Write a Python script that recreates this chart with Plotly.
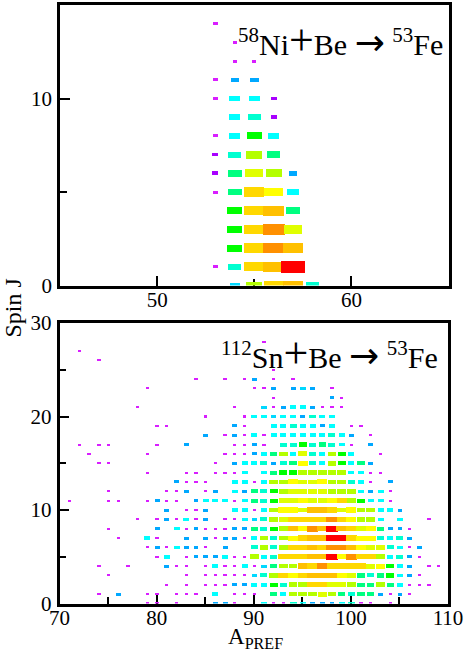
import plotly.graph_objects as go

# levels: 1 magenta ... 15 red, one per drawn box colour
level_colors = {
    1: "#d81eff", 2: "#a800ff", 3: "#00a8ff", 4: "#00d8ff", 5: "#00ffff",
    6: "#00ffd0", 7: "#00ff80", 8: "#00ff00", 9: "#b4ff00", 10: "#e0ff00",
    11: "#ffff00", 12: "#ffd800", 13: "#ffc000", 14: "#ff9000", 15: "#ff0000",
}
# box sizes in axis units (A, J) for each level
ni_box_w = {1: 0.23, 2: 0.30, 3: 0.44, 4: 0.52, 5: 0.58, 6: 0.66, 7: 0.70, 8: 0.76,
            9: 0.84, 10: 0.92, 11: 0.98, 12: 1.02, 13: 1.05, 14: 1.12, 15: 1.23}
ni_box_h = {1: 0.16, 2: 0.20, 3: 0.24, 4: 0.27, 5: 0.30, 6: 0.33, 7: 0.36, 8: 0.38,
            9: 0.42, 10: 0.44, 11: 0.46, 12: 0.50, 13: 0.52, 14: 0.56, 15: 0.64}
sn_box_w = {1: 0.34, 2: 0.38, 3: 0.50, 4: 0.56, 5: 0.62, 6: 0.72, 7: 0.76, 8: 0.82,
            9: 0.90, 10: 0.96, 11: 1.02, 12: 1.06, 13: 1.08, 14: 1.14, 15: 1.24}
sn_box_h = {1: 0.22, 2: 0.24, 3: 0.32, 4: 0.34, 5: 0.38, 6: 0.42, 7: 0.44, 8: 0.46,
            9: 0.50, 10: 0.52, 11: 0.54, 12: 0.56, 13: 0.58, 14: 0.60, 15: 0.64}

# 58Ni+Be, rows by J = 0..14
ni_a = [
    [54, 55, 56, 57, 58],
    [53, 54, 55, 56, 57],
    [54, 55, 56, 57],
    [54, 55, 56, 57],
    [54, 55, 56, 57],
    [53, 54, 55, 56, 57],
    [53, 54, 55, 56, 57],
    [53, 54, 55, 56],
    [53, 54, 55, 56],
    [54, 55, 56],
    [53, 54, 55, 56],
    [53, 54, 55],
    [54, 55],
    [54],
    [53],
]
ni_level = [
    [4, 9, 12, 13, 6],
    [1, 6, 12, 13, 15],
    [8, 12, 14, 13],
    [8, 12, 14, 10],
    [8, 12, 13, 7],
    [1, 7, 12, 11, 5],
    [2, 7, 10, 9, 3],
    [2, 6, 9, 7],
    [1, 5, 8, 5],
    [5, 6, 2],
    [1, 5, 5, 2],
    [1, 3, 3],
    [1, 1],
    [1],
    [1],
]

# 112Sn+Be, rows by J = 0..28
sn_a = [
    [79, 80, 82, 86, 87, 88, 91, 92, 93, 94, 95, 96, 97, 98, 99, 100, 101, 102, 104],
    [74, 76, 79, 80, 82, 83, 84, 86, 88, 89, 90, 92, 93, 94, 95, 96, 97, 98, 99, 100, 101, 102, 103, 104, 105, 106],
    [81, 83, 85, 86, 87, 88, 89, 90, 91, 92, 93, 94, 95, 96, 97, 98, 99, 100, 101, 102, 103, 104, 105, 106, 107, 108],
    [75, 83, 85, 86, 87, 88, 89, 90, 91, 92, 93, 94, 95, 96, 97, 98, 99, 100, 101, 102, 103, 104, 105, 106, 107],
    [74, 77, 81, 82, 83, 85, 86, 87, 88, 89, 90, 91, 92, 93, 94, 95, 96, 97, 98, 99, 100, 101, 102, 103, 104, 105, 106, 108, 109],
    [80, 81, 83, 84, 85, 86, 87, 88, 89, 90, 91, 92, 93, 94, 95, 96, 97, 98, 99, 100, 101, 102, 103, 104, 105, 106, 107],
    [79, 80, 81, 82, 83, 84, 85, 87, 90, 91, 92, 93, 94, 95, 96, 97, 98, 99, 100, 101, 102, 103, 104, 105, 106, 107],
    [76, 79, 80, 83, 85, 86, 87, 88, 89, 90, 91, 92, 93, 94, 95, 96, 97, 98, 99, 100, 101, 102, 103, 104, 105, 106],
    [75, 80, 82, 83, 84, 85, 86, 87, 88, 89, 90, 91, 92, 93, 94, 95, 96, 97, 98, 99, 100, 101, 102, 103, 104, 105, 106],
    [78, 80, 81, 82, 83, 84, 85, 87, 88, 89, 90, 91, 92, 93, 94, 95, 96, 97, 98, 99, 100, 101, 102, 103, 105, 108],
    [81, 83, 84, 85, 88, 89, 90, 91, 92, 93, 94, 95, 96, 97, 98, 99, 100, 101, 102, 103, 104, 105],
    [71, 75, 76, 79, 80, 81, 82, 84, 85, 86, 87, 88, 89, 90, 91, 92, 93, 94, 95, 96, 97, 98, 99, 100, 101, 102, 103, 104],
    [75, 81, 82, 83, 85, 86, 88, 89, 90, 91, 92, 93, 94, 95, 96, 97, 98, 99, 100, 101, 102, 103, 104],
    [82, 83, 84, 85, 88, 89, 90, 91, 92, 93, 94, 95, 96, 97, 98, 99, 100, 101, 102, 104],
    [79, 83, 84, 86, 87, 88, 89, 91, 92, 93, 94, 95, 96, 97, 98, 99, 100, 101, 102, 103],
    [74, 75, 86, 88, 89, 90, 91, 92, 93, 94, 95, 96, 97, 98, 99, 100, 101, 102],
    [73, 79, 87, 88, 89, 90, 91, 92, 93, 94, 95, 96, 97, 98, 99, 100, 103],
    [72, 74, 75, 80, 83, 88, 89, 90, 91, 93, 94, 95, 96, 97, 98, 99, 100, 102],
    [85, 87, 88, 89, 90, 91, 92, 93, 94, 95, 96, 97, 98, 99, 100, 102],
    [80, 81, 88, 89, 92, 93, 94, 95, 96, 97, 98, 100, 101],
    [85, 89, 90, 91, 92, 93, 94, 95, 96, 97, 98],
    [78, 88, 91, 92, 93, 94, 95, 96, 97, 98, 99],
    [92, 98, 99],
    [79, 90, 91, 92, 94, 95, 96, 98],
    [84, 87, 89, 90, 92, 94],
    [92],
    [74, 91],
    [72],
    [91],
]
sn_level = [
    [1, 1, 1, 3, 3, 1, 5, 1, 1, 6, 5, 3, 3, 3, 5, 6, 1, 1, 1],
    [1, 3, 1, 1, 1, 1, 1, 5, 1, 1, 1, 7, 5, 9, 9, 9, 10, 9, 7, 6, 7, 7, 3, 1, 3, 1],
    [1, 1, 1, 1, 1, 3, 3, 5, 5, 8, 6, 9, 9, 12, 12, 10, 10, 9, 7, 7, 9, 7, 5, 1, 1, 1],
    [1, 1, 1, 1, 1, 1, 1, 4, 6, 9, 12, 11, 12, 13, 13, 13, 11, 10, 7, 6, 7, 8, 5, 3, 1],
    [1, 1, 3, 1, 1, 1, 5, 1, 1, 5, 1, 4, 7, 9, 9, 13, 12, 14, 12, 12, 12, 12, 10, 11, 8, 5, 3, 1, 1],
    [1, 5, 1, 3, 3, 3, 5, 1, 1, 9, 5, 6, 12, 12, 12, 13, 13, 15, 11, 14, 12, 12, 9, 5, 6, 3, 1],
    [1, 3, 1, 5, 3, 3, 1, 3, 6, 9, 6, 9, 12, 12, 13, 12, 14, 14, 13, 11, 10, 10, 6, 5, 1, 3],
    [1, 5, 1, 3, 3, 1, 3, 3, 1, 5, 9, 6, 9, 11, 12, 13, 13, 15, 15, 12, 11, 11, 6, 5, 6, 3],
    [1, 3, 5, 1, 3, 1, 1, 1, 3, 3, 7, 6, 8, 9, 13, 11, 14, 13, 15, 13, 12, 10, 11, 7, 3, 3, 1],
    [1, 1, 3, 1, 5, 1, 3, 1, 1, 5, 4, 6, 9, 10, 12, 12, 12, 12, 14, 12, 11, 9, 9, 5, 5, 1],
    [3, 1, 1, 3, 5, 5, 1, 5, 9, 11, 11, 10, 13, 13, 12, 10, 11, 9, 9, 5, 5, 3],
    [1, 1, 1, 1, 3, 1, 1, 3, 5, 5, 5, 1, 5, 7, 6, 8, 10, 10, 11, 10, 10, 11, 12, 9, 8, 5, 5, 1],
    [1, 1, 1, 3, 1, 3, 5, 3, 7, 6, 8, 9, 10, 10, 10, 10, 9, 9, 9, 5, 3, 5, 1],
    [3, 1, 1, 1, 5, 5, 1, 5, 9, 9, 11, 10, 10, 11, 9, 9, 6, 5, 1, 3],
    [1, 1, 1, 1, 1, 1, 5, 5, 7, 8, 8, 9, 9, 9, 9, 9, 5, 5, 1, 1],
    [1, 1, 1, 3, 5, 5, 6, 3, 6, 7, 11, 6, 5, 9, 8, 5, 7, 3],
    [1, 1, 1, 1, 1, 3, 5, 7, 9, 5, 10, 6, 5, 9, 8, 5, 1],
    [1, 1, 1, 1, 3, 1, 1, 3, 1, 6, 6, 8, 6, 7, 6, 5, 1, 3],
    [3, 1, 3, 1, 5, 1, 5, 5, 5, 5, 5, 5, 6, 5, 3, 1],
    [1, 1, 3, 1, 5, 5, 6, 5, 5, 3, 5, 1, 1],
    [1, 1, 5, 5, 4, 5, 5, 3, 6, 5, 5],
    [1, 1, 4, 1, 3, 5, 5, 3, 1, 1, 1],
    [1, 3, 1],
    [1, 1, 1, 3, 3, 4, 3, 1],
    [1, 1, 1, 3, 1, 1],
    [1],
    [1, 1],
    [1],
    [1],
]

x_major_ni = [50, 60]
y_major_ni = [0, 10]
x_major_sn = [70, 80, 90, 100, 110]
y_major_sn = [0, 10, 20, 30]

W, H = 469, 658


def flat_bars(a_rows, level_rows, box_w, box_h, xa, ya):
    xs, bases, heights, widths, colors = [], [], [], [], []
    for j, (a_row, lev_row) in enumerate(zip(a_rows, level_rows)):
        for a, lev in zip(a_row, lev_row):
            xs.append(a)
            heights.append(box_h[lev])
            bases.append(j - box_h[lev] / 2)
            widths.append(box_w[lev])
            colors.append(level_colors[lev])
    return go.Bar(
        x=xs, y=heights, base=bases, width=widths,
        marker=dict(color=colors, line=dict(width=0)),
        xaxis=xa, yaxis=ya, showlegend=False, hoverinfo="skip",
    )


fig = go.Figure()
fig.add_trace(flat_bars(ni_a, ni_level, ni_box_w, ni_box_h, "x", "y"))
fig.add_trace(flat_bars(sn_a, sn_level, sn_box_w, sn_box_h, "x2", "y2"))

minor_ticks = dict(dtick=5, ticklen=7, tickwidth=2, ticks="inside", tickcolor="black")
axis_style = dict(
    showgrid=False, zeroline=False, showline=True, mirror=True, linecolor="black", linewidth=2.5,
    ticks="inside", ticklen=10, tickwidth=2, tickcolor="black", automargin=False, layer="below traces",
    minor=minor_ticks, tickfont=dict(family="Liberation Serif", size=21, color="black"),
)
fig.update_layout(
    template=None, width=W, height=H, margin=dict(l=0, r=0, t=0, b=0),
    paper_bgcolor="white", plot_bgcolor="white", barmode="overlay", bargap=0,
    xaxis=dict(domain=[60 / W, 448.5 / W], range=[45, 65], anchor="y", tickvals=x_major_ni,
               ticklabelstandoff=-6, **axis_style),
    yaxis=dict(domain=[1 - 285.5 / H, 1 - 5 / H], range=[0, 15], anchor="x", tickvals=y_major_ni,
               ticklabelstandoff=1, **axis_style),
    xaxis2=dict(domain=[59.5 / W, 448 / W], range=[70, 110], anchor="y2", tickvals=x_major_sn,
                ticklabelstandoff=-6, **axis_style),
    yaxis2=dict(domain=[1 - 603.5 / H, 1 - 323 / H], range=[0, 30], anchor="x2", tickvals=y_major_sn,
                ticklabelstandoff=1, **axis_style),
)

serif = dict(family="Liberation Serif", color="black")
plus = "<span style='font-size:44px'>+</span>"
arrow = "<span style='font-family:DejaVu Sans;font-size:36px'>\u2192</span>"

fig.add_annotation(
    xref="paper", yref="paper", x=236 / W, y=1 - 40 / H, xanchor="left", yanchor="middle", showarrow=False,
    text=f"<sup>58</sup>Ni{plus}Be {arrow} <sup>53</sup>Fe", font=dict(size=30, **serif),
)
fig.add_annotation(
    xref="paper", yref="paper", x=219 / W, y=1 - 353 / H, xanchor="left", yanchor="middle", showarrow=False,
    text=f"<sup>112</sup>Sn{plus}Be {arrow} <sup>53</sup>Fe", font=dict(size=30, **serif),
)
fig.add_annotation(
    xref="paper", yref="paper", x=12.5 / W, y=1 - 308 / H, xanchor="center", yanchor="middle", showarrow=False,
    text="Spin J", textangle=-90, font=dict(size=24, **serif),
)
fig.add_annotation(
    xref="paper", yref="paper", x=226 / W, y=1 - 638 / H, xanchor="left", yanchor="middle", showarrow=False,
    text="A<sub>PREF</sub>", font=dict(size=23, **serif),
)

fig.write_html("out.html", config=dict(displayModeBar=False), post_script="document.body.style.margin='0';")
